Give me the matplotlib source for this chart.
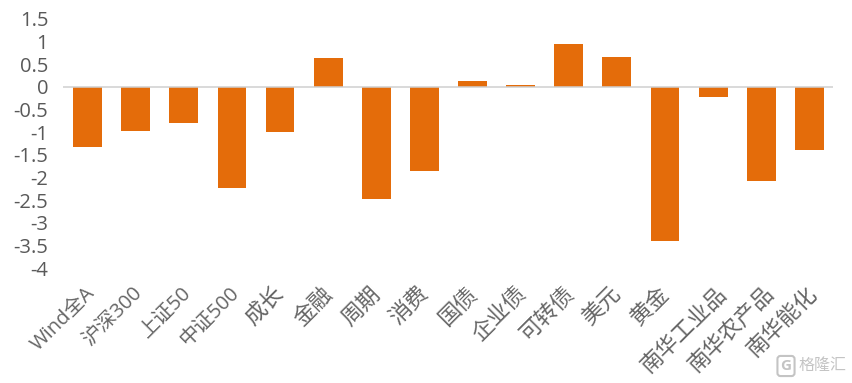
import matplotlib.pyplot as plt
from matplotlib.transforms import ScaledTranslation

categories = ['Wind全A', '沪深300', '上证50', '中证500', '成长', '金融', '周期', '消费',
              '国债', '企业债', '可转债', '美元', '黄金', '南华工业品', '南华农产品', '南华能化']
values = [-1.32, -0.98, -0.79, -2.24, -1.0, 0.63, -2.48, -1.85,
          0.14, 0.05, 0.95, 0.66, -3.41, -0.23, -2.07, -1.39]
yticks = [1.5, 1, 0.5, 0, -0.5, -1, -1.5, -2, -2.5, -3, -3.5, -4]
ylabels = ['1.5', '1', '0.5', '0', '-0.5', '-1', '-1.5', '-2', '-2.5', '-3', '-3.5', '-4']

W, H = 853, 383


def main():
    plt.rcParams['font.family'] = ['Open Sans', 'Noto Sans CJK SC', 'DejaVu Sans']

    fig = plt.figure(figsize=(W / 100, H / 100), dpi=100)
    ax = fig.add_axes([63.5 / W, 1 - 268 / H, (834 - 64) / W, (268 - 19) / H])

    ax.bar(range(len(values)), values, width=0.6, color='#e46c0a')

    ax.set_xlim(-0.5, 15.5)
    ax.set_ylim(-4, 1.5)
    ax.set_yticks(yticks)
    ax.set_yticklabels(ylabels, fontsize=14.5, color='#595959')
    ax.tick_params(axis='y', length=0, pad=11)

    for side in ['top', 'right', 'left', 'bottom']:
        ax.spines[side].set_visible(False)
    ax.axhline(0, color='#d0d0d0', lw=1.1, zorder=3)

    ax.set_xticks(range(len(categories)))
    ax.set_xticklabels(categories, rotation=45, ha='right', rotation_mode='anchor', color='#666666')
    ax.tick_params(axis='x', length=0, pad=11)

    # longer labels sit further right of their bar, like excel does it
    for label in ax.get_xticklabels():
        text = label.get_text()
        has_latin = any(c.isascii() for c in text)
        label.set_fontsize(14.5 if has_latin else 16)
        if has_latin:
            dx = -3
        else:
            dx = {2: -6, 3: -5, 4: -3, 5: 3}[len(text)]
        label.set_transform(label.get_transform() + ScaledTranslation(dx / 100, 0, fig.dpi_scale_trans))

    # watermark
    fig.text(786 / W, 1 - 366 / H, 'G', fontsize=11, color='#c4c4c4', ha='center', va='center', fontweight='bold',
             bbox=dict(boxstyle='round,pad=0.2', fc='white', ec='#c4c4c4', lw=1.5))
    fig.text(847 / W, 1 - 366 / H, '格隆汇', fontsize=11.5, color='#c4c4c4', ha='right', va='center')

    fig.savefig('out.png', dpi=100)


if __name__ == '__main__':
    main()
